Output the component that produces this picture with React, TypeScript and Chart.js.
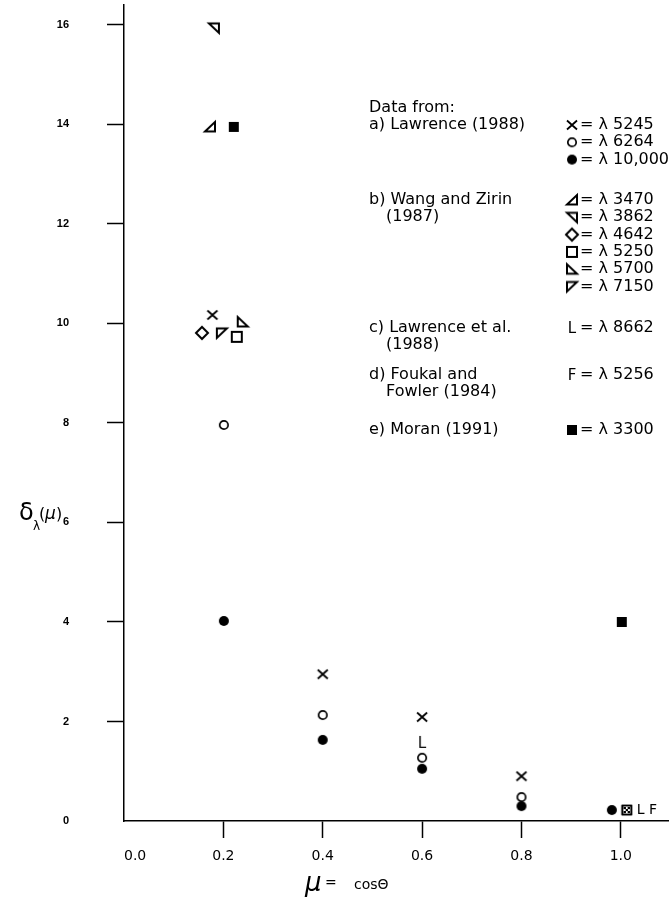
import React, { useEffect, useRef } from 'react';
import { Chart, registerables } from 'chart.js';
Chart.register(...registerables);

const FONT = '"DejaVu Sans", "Liberation Sans", sans-serif';

// Axis ticks
const xTicks = [0, 0.2, 0.4, 0.6, 0.8, 1.0];
const yTicks = [0, 2, 4, 6, 8, 10, 12, 14, 16];

// a) Lawrence (1988)
const mu5245 = [0.178, 0.4, 0.6, 0.8];
const d5245 = [10.17, 2.95, 2.09, 0.9];
const mu6264 = [0.201, 0.4, 0.6, 0.8];
const d6264 = [7.96, 2.13, 1.27, 0.48];
const mu10000 = [0.201, 0.4, 0.6, 0.8, 0.982];
const d10000 = [4.02, 1.63, 1.05, 0.3, 0.22];
// b) Wang and Zirin (1987)
const mu3470 = [0.173];
const d3470 = [13.95];
const mu3862 = [0.181];
const d3862 = [15.94];
const mu4642 = [0.157];
const d4642 = [9.81];
const mu5250 = [0.227];
const d5250 = [9.73];
const mu5700 = [0.239];
const d5700 = [10.03];
const mu7150 = [0.197];
const d7150 = [9.81];
// c) Lawrence et al. (1988)
const mu8662 = [0.6, 1.012];
const d8662 = [1.57, 0.22];
// d) Foukal and Fowler (1984)
const mu5256 = [1.012];
const d5256 = [0.22];
// e) Moran (1991)
const mu3300 = [0.221, 1.002];
const d3300 = [13.95, 4.0];

// Legend text
const legendHeader = 'Data from:';
const sourceLines = [
  ['a) Lawrence (1988)'],
  ['b) Wang and Zirin', '(1987)'],
  ['c) Lawrence et al.', '(1988)'],
  ['d) Foukal and', 'Fowler (1984)'],
  ['e) Moran (1991)'],
];
const wavelengthGroups = [
  ['5245', '6264', '10,000'],
  ['3470', '3862', '4642', '5250', '5700', '7150'],
  ['8662'],
  ['5256'],
  ['3300'],
];
const symbolGroups = [
  ['x', 'o', 'dot'],
  ['tBR', 'tTR', 'dia', 'sq', 'tBL', 'tTL'],
  ['L'],
  ['F'],
  ['fsq'],
];

function makeSymbol(kind: string): HTMLCanvasElement {
  const S = 20, c = 10;
  const cv = document.createElement('canvas');
  cv.width = S; cv.height = S;
  const g = cv.getContext('2d') as CanvasRenderingContext2D;
  g.strokeStyle = '#000'; g.fillStyle = '#000'; g.lineWidth = 2; g.lineJoin = 'miter';
  const poly = (pts: number[][]) => {
    g.beginPath();
    pts.forEach(([px, py], i) => (i ? g.lineTo(c + px, c + py) : g.moveTo(c + px, c + py)));
    g.closePath();
    g.stroke();
  };
  switch (kind) {
    case 'x':
      g.lineWidth = 1.8; g.beginPath();
      g.moveTo(c - 5, c - 4.5); g.lineTo(c + 5, c + 4.5);
      g.moveTo(c + 5, c - 4.5); g.lineTo(c - 5, c + 4.5); g.stroke(); break;
    case 'o':
      g.lineWidth = 1.7; g.beginPath(); g.arc(c, c, 4.2, 0, Math.PI * 2); g.stroke(); break;
    case 'dot':
      g.beginPath(); g.arc(c, c, 5, 0, Math.PI * 2); g.fill(); break;
    case 'fsq':
      g.fillRect(c - 5, c - 5, 10, 10); break;
    case 'dia':
      poly([[0, -6], [6, 0], [0, 6], [-6, 0]]); break;
    case 'sq':
      g.strokeRect(c - 5, c - 5, 10, 10); break;
    case 'tBR':
      poly([[-5, 4.5], [5, 4.5], [5, -5]]); break;
    case 'tTR':
      poly([[-5, -4.5], [5, -4.5], [5, 5]]); break;
    case 'tBL':
      poly([[-5, -5], [-5, 4.5], [5, 4.5]]); break;
    case 'tTL':
      poly([[-5, -4.5], [5, -4.5], [-5, 5]]); break;
    case 'L':
    case 'F':
      g.font = `15px ${FONT}`; g.textAlign = 'center'; g.textBaseline = 'middle';
      g.fillText(kind, c, c + 1); break;
    case 'box':
      g.lineWidth = 1.5; g.strokeRect(c - 4.5, c - 4.5, 9, 9);
      g.fillRect(c - 3, c - 3, 2, 2); g.fillRect(c + 1, c - 3, 2, 2);
      g.fillRect(c - 3, c + 1, 2, 2); g.fillRect(c + 1, c + 1, 2, 2);
      g.fillRect(c - 1, c - 1, 2, 2); break;
  }
  return cv;
}

const pts = (xs: number[], ys: number[]) => xs.map((x, i) => ({ x, y: ys[i] }));

export default function App() {
  const ref = useRef<HTMLCanvasElement | null>(null);
  useEffect(() => {
    if (!ref.current) return;
    const sym: Record<string, HTMLCanvasElement> = {};
    ['x', 'o', 'dot', 'fsq', 'dia', 'sq', 'tBR', 'tTR', 'tBL', 'tTL', 'L', 'F', 'box'].forEach(
      (k) => (sym[k] = makeSymbol(k))
    );

    const ds = (label: string, xs: number[], ys: number[], style: any) => ({
      label,
      data: pts(xs, ys),
      pointStyle: style,
      pointRadius: 5,
      showLine: false,
    });

    const overlay = {
      id: 'overlay',
      afterDraw(chart: any) {
        const ctx = chart.ctx as CanvasRenderingContext2D;
        const xs = chart.scales.x, ys = chart.scales.y;
        ctx.save();
        ctx.fillStyle = '#000';
        ctx.textBaseline = 'middle';
        ctx.textAlign = 'left';
        // legend
        ctx.font = `16px ${FONT}`;
        const leftX = 369, indentX = 386, symX = 572, eqX = 580, step = 17.3;
        const groupY = [125, 200, 328, 375, 430];
        ctx.fillText(legendHeader, leftX, 108);
        sourceLines.forEach((lines, gi) => {
          lines.forEach((t, li) => ctx.fillText(t, li === 0 ? leftX : indentX, groupY[gi] + li * step));
          wavelengthGroups[gi].forEach((w, wi) => {
            const y = groupY[gi] + wi * step;
            const s = sym[symbolGroups[gi][wi]];
            ctx.drawImage(s, symX - s.width / 2, y - s.height / 2);
            ctx.fillText('= \u03bb ' + w, eqX, y);
          });
        });
        // L F label near coincident point
        ctx.font = `14px ${FONT}`;
        ctx.fillText('L F', xs.getPixelForValue(mu5256[0]) + 10, ys.getPixelForValue(d5256[0]));
        // y axis title
        ctx.textBaseline = 'alphabetic';
        ctx.font = `24px ${FONT}`;
        ctx.fillText('\u03b4', 19, 520);
        ctx.font = `12px ${FONT}`;
        ctx.fillText('\u03bb', 33, 530);
        ctx.font = `16px ${FONT}`;
        ctx.fillText('(', 39, 519);
        ctx.font = `italic 17px ${FONT}`;
        ctx.fillText('\u03bc', 45, 519);
        ctx.font = `16px ${FONT}`;
        ctx.fillText(')', 56, 519);
        // x axis title
        ctx.font = `italic 26px ${FONT}`;
        ctx.fillText('\u03bc', 305, 891);
        ctx.font = `14px ${FONT}`;
        ctx.fillText('=', 325, 887);
        ctx.fillText('cos\u0398', 354, 889);
        ctx.restore();
      },
    };

    const chart = new Chart(ref.current, {
      type: 'scatter',
      data: {
        datasets: [
          ds('λ 5245', mu5245, d5245, sym.x),
          ds('λ 6264', mu6264, d6264, sym.o),
          ds('λ 10,000', mu10000, d10000, sym.dot),
          ds('λ 3470', mu3470, d3470, sym.tBR),
          ds('λ 3862', mu3862, d3862, sym.tTR),
          ds('λ 4642', mu4642, d4642, sym.dia),
          ds('λ 5250', mu5250, d5250, sym.sq),
          ds('λ 5700', mu5700, d5700, sym.tBL),
          ds('λ 7150', mu7150, d7150, sym.tTL),
          ds('λ 8662', mu8662, d8662, [sym.L, sym.box]),
          ds('λ 5256', mu5256, d5256, sym.box),
          ds('λ 3300', mu3300, d3300, sym.fsq),
        ] as any,
      },
      options: {
        responsive: false,
        animation: false,
        layout: { autoPadding: false, padding: { top: 5, right: 0, left: 0, bottom: 0 } },
        plugins: { legend: { display: false }, tooltip: { enabled: false } },
        scales: {
          x: {
            type: 'linear',
            min: 0,
            max: 1.097,
            afterBuildTicks: (s: any) => {
              s.ticks = xTicks.map((v) => ({ value: v }));
            },
            afterFit: (s: any) => {
              s.height = 76;
              s.paddingLeft = 0; s.paddingRight = 0; s.paddingTop = 0; s.paddingBottom = 0;
            },
            grid: {
              drawOnChartArea: false,
              drawTicks: true,
              tickLength: 17,
              tickWidth: 1.5,
              tickColor: (c: any) => (c.tick && c.tick.value === 0 ? 'rgba(0,0,0,0)' : '#000'),
            },
            border: { display: true, color: '#000', width: 1.5 },
            ticks: {
              color: '#000',
              font: { family: FONT, size: 14 },
              padding: 10,
              maxRotation: 0,
              autoSkip: false,
              callback: (v: any) => (Number(v) === 0 ? '     0.0' : Number(v).toFixed(1)),
            },
          },
          y: {
            type: 'linear',
            min: 0,
            max: 16.4,
            afterBuildTicks: (s: any) => {
              s.ticks = yTicks.map((v) => ({ value: v }));
            },
            afterFit: (s: any) => {
              s.width = 124;
              s.paddingLeft = 0; s.paddingRight = 0; s.paddingTop = 0; s.paddingBottom = 0;
            },
            grid: {
              drawOnChartArea: false,
              drawTicks: true,
              tickLength: 17,
              tickWidth: 1.5,
              tickColor: (c: any) => (c.tick && c.tick.value === 0 ? 'rgba(0,0,0,0)' : '#000'),
            },
            border: { display: true, color: '#000', width: 1.5 },
            ticks: {
              color: '#000',
              font: { family: '"Liberation Sans", Arial, sans-serif', size: 11, weight: 'bold' },
              padding: 38,
              autoSkip: false,
              callback: (v: any) => String(v),
            },
          },
        },
      },
      plugins: [overlay],
    });
    return () => chart.destroy();
  }, []);

  return (
    <div style={{ position: 'absolute', left: 0, top: 0, width: 669, height: 897, background: '#fff' }}>
      <canvas ref={ref} width={669} height={897} style={{ display: 'block' }} />
    </div>
  );
}
